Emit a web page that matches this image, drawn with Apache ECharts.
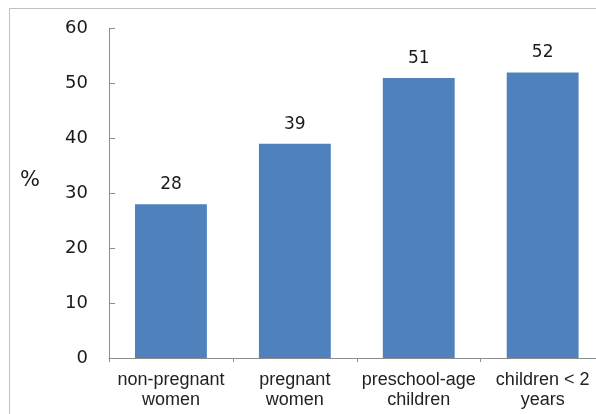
<!DOCTYPE html>
<html>
<head>
<meta charset="utf-8">
<script src="https://cdn.jsdelivr.net/npm/echarts@6/dist/echarts.min.js"></script>
<style>
  html, body { margin: 0; padding: 0; background: #fff; }
  #chart { width: 596px; height: 414px; }
</style>
</head>
<body>
<div id="chart"></div>
<script>
// Prevalence by population group
const categories = ['non-pregnant\nwomen', 'pregnant\nwomen', 'preschool-age\nchildren', 'children < 2\nyears'];
const values = [28, 39, 51, 52];
const yTicks = [0, 10, 20, 30, 40, 50, 60];

const chart = echarts.init(document.getElementById('chart'), null, { renderer: 'canvas' });

chart.setOption({
  animation: false,
  backgroundColor: '#ffffff',
  graphic: [
    {
      type: 'rect',
      shape: { x: 9.5, y: 8.5, width: 700, height: 500 },
      style: { fill: 'none', stroke: '#c0c0c0', lineWidth: 1 },
      z: 0
    },
    {
      type: 'text',
      left: 20,
      top: 170,
      style: { text: '%', font: '21px "DejaVu Sans", sans-serif', fill: '#1a1a1a' }
    }
  ],
  grid: {
    left: 109, top: 28.5, width: 495.6, height: 329.5,
    containLabel: false,
    outerBoundsMode: 'none'
  },
  xAxis: {
    type: 'category',
    data: categories,
    axisLine: { lineStyle: { color: '#8c8c8c', width: 1 } },
    axisTick: { show: true, length: 4, inside: false, alignWithLabel: false, lineStyle: { color: '#8c8c8c' } },
    axisLabel: {
      interval: 0,
      margin: 12,
      color: '#222222',
      fontFamily: 'Arial, "Liberation Sans", sans-serif',
      fontSize: 18,
      lineHeight: 20
    }
  },
  yAxis: {
    type: 'value',
    min: yTicks[0],
    max: yTicks[yTicks.length - 1],
    interval: 10,
    splitLine: { show: false },
    axisLine: { show: true, lineStyle: { color: '#8c8c8c', width: 1 } },
    axisTick: { show: true, inside: true, length: 6, lineStyle: { color: '#8c8c8c' } },
    axisLabel: {
      margin: 21,
      color: '#1a1a1a',
      fontFamily: '"DejaVu Sans", Verdana, sans-serif',
      fontSize: 18
    }
  },
  series: [{
    type: 'bar',
    data: values,
    barWidth: '58%',
    itemStyle: { color: '#4f81bd' },
    label: {
      show: true,
      position: 'top',
      distance: 11,
      color: '#1a1a1a',
      fontFamily: '"DejaVu Sans", Verdana, sans-serif',
      fontSize: 17
    }
  }]
});
</script>
</body>
</html>
